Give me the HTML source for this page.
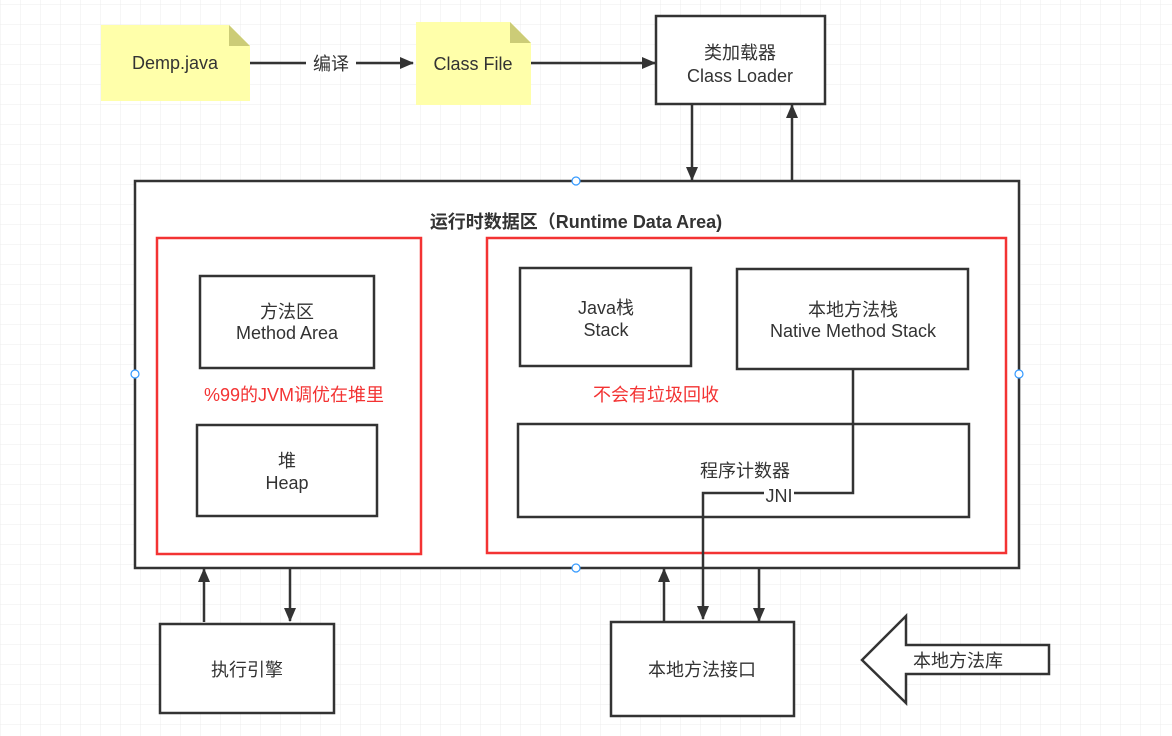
<!DOCTYPE html>
<html><head><meta charset="utf-8"><style>
html,body{margin:0;padding:0;background:#fff}
svg{display:block}
text{font-family:"Liberation Sans","Noto Sans CJK SC",sans-serif;fill:#333;font-size:18px;text-anchor:middle}
</style></head><body>
<svg width="1172" height="736" xmlns="http://www.w3.org/2000/svg">
<defs>
<pattern id="g" width="20" height="20" patternUnits="userSpaceOnUse" x="1" y="5">
<path d="M20 0V20M0 20H20" stroke="#ececec" stroke-width="1" fill="none"/>
</pattern>
<marker id="b" markerWidth="14" markerHeight="12" refX="13" refY="6" orient="auto" markerUnits="userSpaceOnUse">
<path d="M0 0L14 6L0 12Z" fill="#333"/>
</marker>
</defs>
<rect width="1172" height="736" fill="url(#g)"/>
<g stroke="#333" stroke-width="2.5" fill="none">
<path d="M101 25H229L250 46V101H101Z" fill="#ffffaa" stroke="none"/>
<path d="M229 25L250 46H229Z" fill="#cccc77" stroke="none"/>
<path d="M416 22H510L531 43V105H416Z" fill="#ffffaa" stroke="none"/>
<path d="M510 22L531 43H510Z" fill="#cccc77" stroke="none"/>
<line x1="250" y1="63" x2="413" y2="63" marker-end="url(#b)"/>
<line x1="531" y1="63" x2="655" y2="63" marker-end="url(#b)"/>
<rect x="656" y="16" width="169" height="88" fill="#fff"/>
<line x1="692" y1="104" x2="692" y2="180" marker-end="url(#b)"/>
<line x1="792" y1="181" x2="792" y2="105" marker-end="url(#b)"/>
<rect x="135" y="181" width="884" height="387" fill="#fff"/>
<rect x="157" y="238" width="264" height="316" stroke="#f33333"/>
<rect x="487" y="238" width="519" height="315" stroke="#f33333"/>
<rect x="200" y="276" width="174" height="92"/>
<rect x="197" y="425" width="180" height="91"/>
<rect x="520" y="268" width="171" height="98"/>
<rect x="737" y="269" width="231" height="100"/>
<rect x="518" y="424" width="451" height="93"/>
<path d="M853 369V493H703V619" marker-end="url(#b)"/>
<line x1="204" y1="622" x2="204" y2="569" marker-end="url(#b)"/>
<line x1="290" y1="568" x2="290" y2="621" marker-end="url(#b)"/>
<line x1="664" y1="621" x2="664" y2="569" marker-end="url(#b)"/>
<line x1="759" y1="568" x2="759" y2="621" marker-end="url(#b)"/>
<rect x="160" y="624" width="174" height="89" fill="#fff"/>
<rect x="611" y="622" width="183" height="94" fill="#fff"/>
<path d="M862 660L906 616V645H1049V674H906V703Z" fill="#fff"/>
</g>
<rect x="306" y="54" width="50" height="20" fill="#fff"/>
<rect x="764" y="486" width="30" height="18" fill="#fff"/>
<g fill="#fff" stroke="#3399ff" stroke-width="1.2">
<circle cx="576" cy="181" r="4"/><circle cx="135" cy="374" r="4"/><circle cx="1019" cy="374" r="4"/><circle cx="576" cy="568" r="4"/>
</g>
<text x="175" y="69" font-size="17">Demp.java</text>
<text x="331" y="70" font-size="16">编译</text>
<text x="473" y="70" font-size="17">Class File</text>
<text x="740" y="59" font-size="19">类加载器</text>
<text x="740" y="82" font-size="19">Class Loader</text>
<text x="576" y="228" font-weight="bold" font-size="19">运行时数据区（Runtime Data Area)</text>
<text x="287" y="318">方法区</text>
<text x="287" y="339">Method Area</text>
<text x="294" y="401" style="fill:#f33333" font-size="20">%99的JVM调优在堆里</text>
<text x="287" y="467">堆</text>
<text x="287" y="489">Heap</text>
<text x="606" y="314">Java栈</text>
<text x="606" y="336">Stack</text>
<text x="853" y="316">本地方法栈</text>
<text x="853" y="337">Native Method Stack</text>
<text x="656" y="401" style="fill:#f33333" font-size="20">不会有垃圾回收</text>
<text x="745" y="477">程序计数器</text>
<text x="779" y="502" font-size="16">JNI</text>
<text x="247" y="676" font-size="19">执行引擎</text>
<text x="702" y="676" font-size="19">本地方法接口</text>
<text x="958" y="667" font-size="16">本地方法库</text>
</svg>
</body></html>
